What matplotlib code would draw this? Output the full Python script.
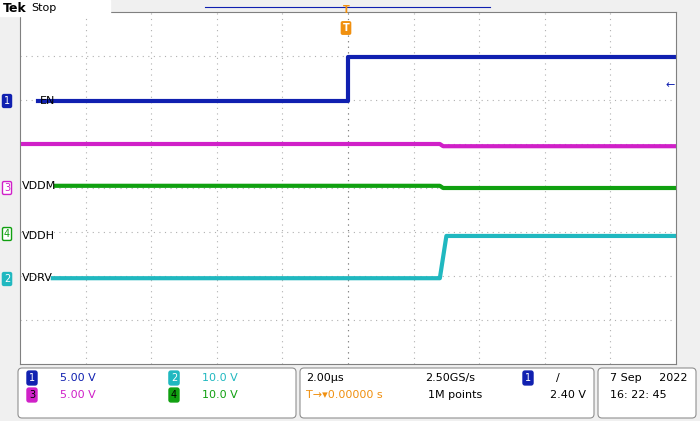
import matplotlib
matplotlib.use("Agg")
import matplotlib.pyplot as plt
from matplotlib.patches import Rectangle, FancyBboxPatch

W, H = 700, 421
# time in us, level in divisions
en_t = [-9.45, 0.0, 0.0, 10.0]
en_v = [1.98, 1.98, 2.98, 2.98]
m_t = [-10.0, 2.8, 2.9, 10.0]
m_v = [1.0, 1.0, 0.95, 0.95]
g_t = [-8.9, 2.8, 2.9, 10.0]
g_v = [0.05, 0.05, 0.0, 0.0]
c_t = [-9.0, 2.8, 3.0, 10.0]
c_v = [-2.05, -2.05, -1.09, -1.09]
labels = ["EN", "VDDM", "VDDH", "VDRV"]

fig = plt.figure(figsize=(W/100, H/100), dpi=100)
fig.patch.set_facecolor("#f0f0f0")
def px(x0, y0, x1, y1):
    return [x0/W, 1-y1/H, (x1-x0)/W, (y1-y0)/H]

ax = fig.add_axes(px(20, 12, 676, 364))
ax.set_facecolor("white")
ax.set_xlim(-10, 10); ax.set_ylim(-4, 4)
for x in range(-8, 10, 2):
    ax.axvline(x, color="#b0b0b0", lw=0.8, ls=(0, (1, 4)))
for y in range(-3, 4):
    ax.axhline(y, color="#b0b0b0", lw=0.8, ls=(0, (1, 4)))
ax.axvline(0, color="#808080", lw=0.8, ls=(0, (1, 4)))
ax.set_xticks([]); ax.set_yticks([])
for s in ax.spines.values():
    s.set_color("#808080")
ax.plot(m_t, m_v, color="#d020c8", lw=3)
ax.plot(g_t, g_v, color="#10a010", lw=3)
ax.plot(c_t, c_v, color="#20b8c0", lw=3)
ax.plot(en_t, en_v, color="#1020b0", lw=3)
ax.text(-9.4, 1.98, "EN", fontsize=8, va="center", ha="left")
ax.text(-9.95, 0.05, "VDDM", fontsize=8, va="center", ha="left")
ax.text(-9.95, -1.09, "VDDH", fontsize=8, va="center", ha="left")
ax.text(-9.95, -2.05, "VDRV", fontsize=8, va="center", ha="left")

fa = fig.add_axes([0, 0, 1, 1]); fa.set_xlim(0, W); fa.set_ylim(H, 0); fa.axis("off")
fa.add_patch(Rectangle((0, 0), 110, 16, color="white"))
fa.text(3, 8, "Tek", fontsize=9, weight="bold", va="center")
fa.text(31, 8, "Stop", fontsize=8, va="center")
fa.plot([205, 490], [7, 7], color="#1020b0", lw=0.8)
fa.text(346, 10, "T", color="#f09010", fontsize=7, ha="center", va="center", weight="bold")
fa.text(346, 28, "T", color="white", fontsize=7, ha="center", va="center", weight="bold",
        bbox=dict(boxstyle="round,pad=0.2", fc="#f09010", ec="none"))
fa.text(670, 85, "←", color="#1020b0", fontsize=8, ha="center", va="center")
marks = [(101, "1", "#1020b0"), (188, "3", "#d020c8"), (234, "4", "#10a010"), (279, "2", "#20b8c0")]
for y, n, c in marks:
    fa.text(7, y, n, fontsize=7, ha="center", va="center", color=c if n in "34" else "white",
            bbox=dict(boxstyle="round,pad=0.15", fc="white" if n in "34" else c, ec=c))
# bottom bar
for x0, x1 in [(18, 296), (300, 594), (598, 696)]:
    fa.add_patch(FancyBboxPatch((x0, 368), x1-x0, 50, boxstyle="round,pad=0,rounding_size=4",
                                fc="white", ec="#909090", lw=0.8))
rows = [(32, 378, "1", "#1020b0", "5.00 V"), (174, 378, "2", "#20b8c0", "10.0 V"),
        (32, 395, "3", "#d020c8", "5.00 V"), (174, 395, "4", "#10a010", "10.0 V")]
for x, y, n, c, t in rows:
    fa.text(x, y, n, fontsize=7, ha="center", va="center", color="white" if n in "12" else "black",
            bbox=dict(boxstyle="round,pad=0.2", fc=c, ec=c))
    fa.text(x+28, y, t, fontsize=8, va="center", color=c)
fa.text(306, 378, "2.00µs", fontsize=8, va="center")
fa.text(425, 378, "2.50GS/s", fontsize=8, va="center")
fa.text(306, 395, "T→▾0.00000 s", fontsize=8, va="center", color="#f09010")
fa.text(428, 395, "1M points", fontsize=8, va="center")
fa.text(528, 378, "1", fontsize=7, ha="center", va="center", color="white",
        bbox=dict(boxstyle="round,pad=0.2", fc="#1020b0", ec="#1020b0"))
fa.text(556, 378, "/", fontsize=8, va="center")
fa.text(550, 395, "2.40 V", fontsize=8, va="center")
fa.text(610, 378, "7 Sep     2022", fontsize=8, va="center")
fa.text(610, 395, "16: 22: 45", fontsize=8, va="center")
fig.savefig("out.png", dpi=100, facecolor=fig.get_facecolor())
